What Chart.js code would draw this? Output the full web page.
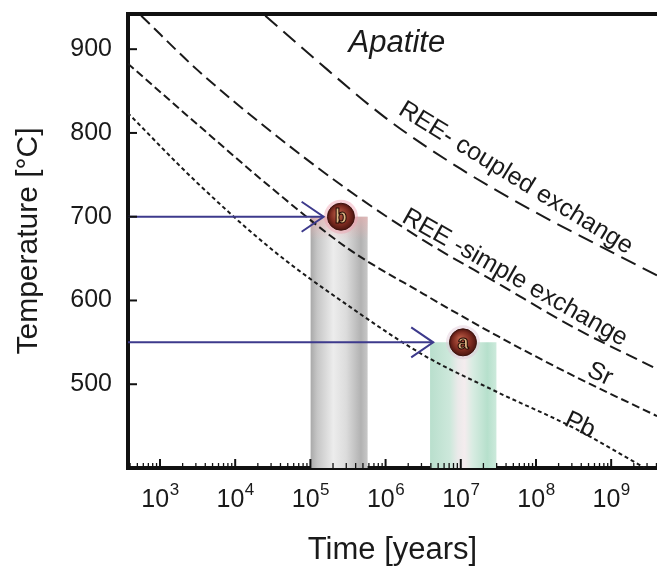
<!DOCTYPE html>
<html>
<head>
<meta charset="utf-8">
<script src="https://cdn.jsdelivr.net/npm/chart.js@4.4.0/dist/chart.umd.min.js"></script>
<style>
  html, body { margin: 0; padding: 0; background: #fff; overflow: hidden; }
  #wrap { width: 657px; height: 573px; }
  canvas { display: block; width: 657px; height: 573px; }
</style>
</head>
<body>
<div id="wrap"><canvas id="chart" width="657" height="573"></canvas></div>
<script>
// closure curves: log10(time / years) and temperature (°C)
const coupledLogT = [4.40, 5.0, 6.0, 7.0, 8.0, 9.0, 9.61];
const coupledT    = [940, 893, 818, 757, 705, 658, 630];
const simpleLogT  = [2.75, 3.5, 4.5, 5.5, 6.5, 7.5, 8.5, 9.61];
const simpleT     = [940, 875, 800, 732, 672, 620, 568, 518];
const srLogT      = [2.57, 3.5, 4.5, 5.5, 6.5, 7.5, 8.5, 9.61];
const srT         = [883, 810, 733, 662, 608, 557, 510, 462];
const pbLogT      = [2.57, 3.5, 4.5, 5.5, 6.5, 7.5, 8.5, 9.45];
const pbT         = [824, 740, 660, 594, 535, 490, 448, 400];

// samples b and a
const sampleNames = ['b', 'a'];
const sampleTime  = [2.55e5, 1.07e7];
const sampleTemp  = [700, 550];
const arrowEnd    = [1.5e5, 4.3e6];
const barStart    = [1.0e5, 3.9e6];
const barEnd      = [5.8e5, 3.0e7];

// ticks
const xTickExp = [3, 4, 5, 6, 7, 8, 9];
const yTicks   = [500, 600, 700, 800, 900];

const xMin = Math.pow(10, 2.5745), xMax = Math.pow(10, 9.6095);
const yMin = 400, yMax = 942;
const FONT = '"Liberation Sans", Arial, sans-serif';
const INK = '#1a1a1a';
const ARROW = '#3d3a8c';

const pts = (lx, ly) => lx.map((v, i) => ({ x: Math.pow(10, v), y: ly[i] }));

function curve(label, lx, ly, dash, width) {
  return {
    label: label, data: pts(lx, ly), borderColor: INK, borderWidth: width,
    borderDash: dash, pointRadius: 0, cubicInterpolationMode: 'monotone',
    fill: false, order: 3
  };
}

function barFill(i, stops) {
  return function (context) {
    const chart = context.chart;
    if (!chart.chartArea) return stops[0][1];
    const x0 = chart.scales.x.getPixelForValue(barStart[i]);
    const x1 = chart.scales.x.getPixelForValue(barEnd[i]);
    const g = chart.ctx.createLinearGradient(x0, 0, x1, 0);
    stops.forEach(s => g.addColorStop(s[0], s[1]));
    return g;
  };
}

const grayStops = [[0, '#a8a8a8'], [0.12, '#c6c6c6'], [0.4, '#ececec'], [0.62, '#dcdcdc'], [0.88, '#b2b2b2'], [1, '#c8c8c8']];
const greenStops = [[0, '#b9dfcd'], [0.3, '#cde8db'], [0.42, '#ebeaea'], [0.52, '#f4ecee'], [0.64, '#d8ece2'], [0.86, '#b6e0cc'], [1, '#cdeadc']];

const datasets = [
  // sample circles
  {
    label: 'samples', data: sampleTime.map((t, i) => ({ x: t, y: sampleTemp[i] })),
    showLine: false, pointRadius: 13.5, pointHoverRadius: 13.5, borderColor: '#3e120d', borderWidth: 1,
    backgroundColor: function (context) {
      const chart = context.chart;
      if (context.type !== 'data' || !chart.chartArea) return '#7a2a20';
      const px = chart.scales.x.getPixelForValue(context.raw.x);
      const py = chart.scales.y.getPixelForValue(context.raw.y);
      const g = chart.ctx.createRadialGradient(px - 3, py - 4, 1, px, py, 13.5);
      g.addColorStop(0, '#b85a44');
      g.addColorStop(0.65, '#7f2c21');
      g.addColorStop(1, '#4c1510');
      return g;
    },
    order: 0
  },
  {
    label: 'halo', data: sampleTime.map((t, i) => ({ x: t, y: sampleTemp[i] })),
    showLine: false, pointRadius: 17, pointHoverRadius: 17, borderWidth: 0,
    backgroundColor: ['rgba(240,160,175,0.45)', 'rgba(225,200,215,0.45)'], order: 1
  },
  // arrows
  {
    label: 'arrow b', data: [{ x: xMin, y: sampleTemp[0] }, { x: arrowEnd[0], y: sampleTemp[0] }],
    borderColor: ARROW, borderWidth: 2, pointRadius: 0, fill: false, order: 2
  },
  {
    label: 'arrow a', data: [{ x: xMin, y: sampleTemp[1] }, { x: arrowEnd[1], y: sampleTemp[1] }],
    borderColor: ARROW, borderWidth: 2, pointRadius: 0, fill: false, order: 2
  },
  curve('REE coupled', coupledLogT, coupledT, [16, 8], 2),
  curve('REE simple', simpleLogT, simpleT, [12, 6], 2),
  curve('Sr', srLogT, srT, [8, 4], 2),
  curve('Pb', pbLogT, pbT, [4, 3], 2),
  // bars
  {
    label: 'bar b cap', data: [{ x: barStart[0], y: sampleTemp[0] }, { x: barEnd[0], y: sampleTemp[0] }],
    borderWidth: 0, pointRadius: 0, fill: { value: 672 },
    backgroundColor: function (context) {
      const chart = context.chart;
      if (!chart.chartArea) return 'rgba(240,170,170,0.4)';
      const y0 = chart.scales.y.getPixelForValue(sampleTemp[0]);
      const y1 = chart.scales.y.getPixelForValue(672);
      const g = chart.ctx.createLinearGradient(0, y0, 0, y1);
      g.addColorStop(0, 'rgba(240,175,175,0.6)');
      g.addColorStop(1, 'rgba(240,175,175,0)');
      return g;
    },
    order: 4
  },
  {
    label: 'bar b', data: [{ x: barStart[0], y: sampleTemp[0] }, { x: barEnd[0], y: sampleTemp[0] }],
    borderWidth: 0, pointRadius: 0, fill: 'start', backgroundColor: barFill(0, grayStops), order: 5
  },
  {
    label: 'bar a', data: [{ x: barStart[1], y: sampleTemp[1] }, { x: barEnd[1], y: sampleTemp[1] }],
    borderWidth: 0, pointRadius: 0, fill: 'start', backgroundColor: barFill(1, greenStops), order: 5
  }
];

// text drawn along the curves (log10 time, °C, rotation in degrees)
const curveLabels = [
  { text: 'Apatite', lx: 6.15, t: 907, rot: 0, font: 'italic 31px ' + FONT },
  { text: 'REE- coupled exchange', lx: 7.73, t: 746, rot: 31.5, font: '25px ' + FONT },
  { text: 'REE -simple exchange', lx: 7.72, t: 627, rot: 29.5, font: '25px ' + FONT },
  { text: 'Sr', lx: 8.85, t: 512, rot: 25, font: '25px ' + FONT },
  { text: 'Pb', lx: 8.585, t: 451, rot: 25, font: '25px ' + FONT }
];

const decor = {
  id: 'decor',
  afterDatasetsDraw(chart) {
    const { ctx, chartArea: a, scales: { x, y } } = chart;
    const seg = (x0, y0, x1, y1) => { ctx.beginPath(); ctx.moveTo(x0, y0); ctx.lineTo(x1, y1); ctx.stroke(); };
    ctx.save();

    // top frame line
    ctx.strokeStyle = '#111';
    ctx.lineWidth = 4;
    seg(a.left - 2, a.top, chart.width, a.top);

    // inward ticks
    ctx.lineWidth = 2;
    yTicks.forEach(v => { const py = y.getPixelForValue(v); seg(a.left, py, a.left + 9, py); });
    for (let e = 2; e <= 9; e++) {
      for (let m = 1; m <= 9; m++) {
        const v = m * Math.pow(10, e);
        if (v < xMin || v > xMax) continue;
        const px = x.getPixelForValue(v);
        ctx.lineWidth = m === 1 ? 2 : 1.3;
        seg(px, a.bottom, px, a.bottom - (m === 1 ? 9 : 5));
      }
    }

    // x tick labels 10^n
    ctx.fillStyle = INK;
    ctx.textBaseline = 'alphabetic';
    ctx.textAlign = 'left';
    xTickExp.forEach(e => {
      const px = x.getPixelForValue(Math.pow(10, e));
      ctx.font = '25px ' + FONT;
      const w1 = ctx.measureText('10').width;
      ctx.font = '17px ' + FONT;
      const w2 = ctx.measureText(String(e)).width;
      const left = px - (w1 + w2) / 2;
      ctx.font = '25px ' + FONT;
      ctx.fillText('10', left, 507);
      ctx.font = '17px ' + FONT;
      ctx.fillText(String(e), left + w1 + 0.5, 495);
    });

    // arrow heads
    ctx.strokeStyle = ARROW;
    ctx.lineWidth = 2;
    arrowEnd.forEach((t, i) => {
      const px = x.getPixelForValue(t), py = y.getPixelForValue(sampleTemp[i]);
      ctx.beginPath();
      ctx.moveTo(px - 22, py - 15);
      ctx.lineTo(px, py);
      ctx.lineTo(px - 22, py + 15);
      ctx.stroke();
    });

    // sample letters
    ctx.textAlign = 'center';
    ctx.textBaseline = 'middle';
    ctx.font = 'bold 20px ' + FONT;
    sampleNames.forEach((n, i) => {
      const px = x.getPixelForValue(sampleTime[i]), py = y.getPixelForValue(sampleTemp[i]);
      ctx.fillStyle = '#dcb784';
      ctx.fillText(n, px, py + 1);
      ctx.strokeStyle = '#1e0703';
      ctx.lineWidth = 1;
      ctx.strokeText(n, px, py + 1);
    });

    // curve labels
    ctx.fillStyle = INK;
    curveLabels.forEach(l => {
      const px = x.getPixelForValue(Math.pow(10, l.lx)), py = y.getPixelForValue(l.t);
      ctx.save();
      ctx.translate(px, py);
      ctx.rotate(l.rot * Math.PI / 180);
      ctx.font = l.font;
      ctx.textAlign = 'center';
      ctx.textBaseline = 'middle';
      ctx.fillText(l.text, 0, 0);
      ctx.restore();
    });

    ctx.restore();
  }
};

new Chart(document.getElementById('chart'), {
  type: 'line',
  data: { datasets: datasets },
  options: {
    responsive: false,
    animation: false,
    events: [],
    layout: { autoPadding: false, padding: { top: 14, right: 0, left: 0, bottom: 0 } },
    plugins: { legend: { display: false }, tooltip: { enabled: false } },
    scales: {
      x: {
        type: 'logarithmic',
        min: xMin, max: xMax,
        afterFit: s => { s.height = 105; s.paddingLeft = 0; s.paddingRight = 0; },
        ticks: { display: false },
        grid: { display: false, drawTicks: false },
        border: { display: true, width: 4, color: '#111' },
        title: { display: true, text: 'Time [years]', color: INK, font: { family: FONT, size: 31 }, padding: { top: 0, bottom: 4 } }
      },
      y: {
        type: 'linear',
        min: yMin, max: yMax,
        afterFit: s => { s.width = 128; s.paddingTop = 0; s.paddingBottom = 0; },
        afterBuildTicks: s => { s.ticks = yTicks.map(v => ({ value: v })); },
        ticks: { color: INK, font: { family: FONT, size: 25 }, padding: 16 },
        grid: { display: false, drawTicks: false },
        border: { display: true, width: 4, color: '#111' },
        title: { display: true, text: 'Temperature [°C]', color: INK, font: { family: FONT, size: 30 }, padding: { top: 11, bottom: 0 } }
      }
    }
  },
  plugins: [decor]
});
</script>
</body>
</html>
